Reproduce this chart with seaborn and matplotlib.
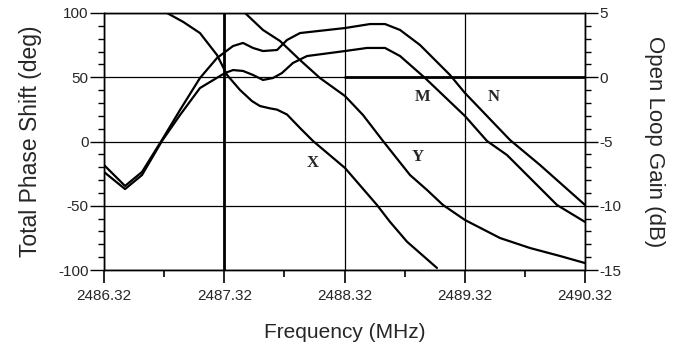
import numpy as np
import pandas as pd
import seaborn as sns
import matplotlib.pyplot as plt
from matplotlib.ticker import MultipleLocator, FixedLocator

########################################################################
# Data (frequency in MHz)

# phase curves (left axis, deg)
freq_x  = [2486.844, 2486.980, 2487.118, 2487.260, 2487.343, 2487.451, 2487.550,
           2487.617, 2487.700, 2487.759, 2487.842, 2487.950, 2488.058, 2488.324,
           2488.590, 2488.698, 2488.840, 2489.089]
phase_x = [100.0, 93.0, 84.4, 67.3, 51.8, 40.1, 31.5,
           27.6, 25.8, 24.8, 21.0, 10.5, 0.4, -20.6,
           -49.4, -62.5, -78.0, -98.4]

freq_y  = [2487.493, 2487.642, 2487.784, 2487.950, 2488.116, 2488.324, 2488.474,
           2488.640, 2488.865, 2489.006, 2489.139, 2489.322, 2489.613, 2489.863,
           2490.112, 2490.320]
phase_y = [100.0, 86.8, 78.2, 63.4, 49.4, 35.4, 20.6,
           0.4, -26.1, -37.7, -49.4, -61.1, -75.1, -82.9,
           -89.1, -94.6]

# gain curves (right axis, dB)
freq_m = [2486.320, 2486.495, 2486.636, 2486.802, 2486.952, 2487.118, 2487.326,
          2487.393, 2487.476, 2487.559, 2487.642, 2487.725, 2487.800, 2487.891,
          2488.008, 2488.324, 2488.507, 2488.657, 2488.782, 2488.990, 2489.322,
          2489.505, 2489.671, 2490.087, 2490.320]
gain_m = [-7.37, -8.70, -7.61, -4.96, -2.94, -0.84, 0.33,
          0.56, 0.49, 0.18, -0.21, -0.06, 0.33, 1.11,
          1.65, 2.04, 2.28, 2.28, 1.65, -0.06, -3.02,
          -4.96, -6.05, -9.94, -11.26]

freq_n = [2486.320, 2486.495, 2486.636, 2486.802, 2486.952, 2487.118, 2487.260,
          2487.393, 2487.476, 2487.559, 2487.642, 2487.759, 2487.842, 2487.950,
          2488.324, 2488.532, 2488.657, 2488.782, 2488.948, 2489.197, 2489.322,
          2489.696, 2489.946, 2490.320]
gain_n = [-6.83, -8.46, -7.37, -4.88, -2.55, -0.06, 1.50,
          2.43, 2.67, 2.28, 2.04, 2.12, 2.90, 3.44,
          3.83, 4.14, 4.14, 3.68, 2.51, 0.18, -1.23,
          -4.88, -6.83, -9.94]

freq_ticks = [2486.32, 2487.32, 2488.32, 2489.32, 2490.32]
freq_tick_labels = ['2486.32', '2487.32', '2488.32', '2489.32', '2490.32']

########################################################################
# Plotting

sns.set_style('white')
plt.rcParams['font.family'] = ['Liberation Sans', 'DejaVu Sans']
plt.rcParams['axes.unicode_minus'] = False

fig = plt.figure(figsize=(6.8, 3.49), dpi=100)
ax = fig.add_axes([104/680, 1-270/349, 481/680, 257/349])
ax2 = ax.twinx()

line_kw = dict(color='black', linewidth=1.6, sort=False, estimator=None)
sns.lineplot(x=freq_x, y=phase_x, ax=ax, **line_kw)
sns.lineplot(x=freq_y, y=phase_y, ax=ax, **line_kw)
sns.lineplot(x=freq_m, y=gain_m, ax=ax2, **line_kw)
sns.lineplot(x=freq_n, y=gain_n, ax=ax2, **line_kw)

ax.set_xlim(2486.32, 2490.32)
ax.set_ylim(-100, 100)
ax2.set_ylim(-15, 5)

# ticks
ax.xaxis.set_major_locator(FixedLocator(freq_ticks))
ax.set_xticklabels(freq_tick_labels)
ax.xaxis.set_minor_locator(FixedLocator([f + 0.5 for f in freq_ticks[:-1]]))
ax.yaxis.set_major_locator(MultipleLocator(50))
ax.yaxis.set_minor_locator(MultipleLocator(10))
ax2.yaxis.set_major_locator(MultipleLocator(5))
ax2.yaxis.set_minor_locator(MultipleLocator(1))

ax.tick_params(axis='x', which='major', direction='out', length=9, width=1.2, pad=5,
               labelsize=11, bottom=True, color='black')
ax.tick_params(axis='x', which='minor', direction='out', length=5, width=1.2, bottom=True, color='black')
ax.tick_params(axis='y', which='major', direction='out', length=10, width=1, pad=1,
               labelsize=11, left=True, color='black')
ax.tick_params(axis='y', which='minor', direction='out', length=4, width=1, left=True, color='black')
ax2.tick_params(axis='y', which='major', direction='out', length=9, width=1, pad=1,
                labelsize=11, right=True, color='black')
ax2.tick_params(axis='y', which='minor', direction='out', length=4, width=1, right=True, color='black')

# grid lines
ax.grid(True, which='major', color='black', linewidth=0.9)
ax.set_axisbelow(True)
ax.axvline(2487.32, color='black', linewidth=2, zorder=1)
ax2.axhline(0, xmin=0.5, xmax=1, color='black', linewidth=2, zorder=1)

for a in (ax, ax2):
    for s in a.spines.values():
        s.set_color('black')
        s.set_linewidth(1.0)

ax.set_xlabel('Frequency (MHz)', fontsize=15, labelpad=14)
ax.set_ylabel('Total Phase Shift (deg)', fontsize=16.5, labelpad=12)
ax2.set_ylabel('Open Loop Gain (dB)', fontsize=16, rotation=270, labelpad=32)

# curve labels
label_kw = dict(fontsize=12, fontweight='bold', family=['Liberation Serif', 'DejaVu Serif'],
                ha='center', va='center')
ax.text(2488.058, -16.7, 'X', **label_kw)
ax.text(2488.931, -12.1, 'Y', **label_kw)
ax.text(2488.973, 34.6, 'M', **label_kw)
ax.text(2489.563, 34.6, 'N', **label_kw)

plt.savefig('out.png', dpi=100)
plt.close(fig)
